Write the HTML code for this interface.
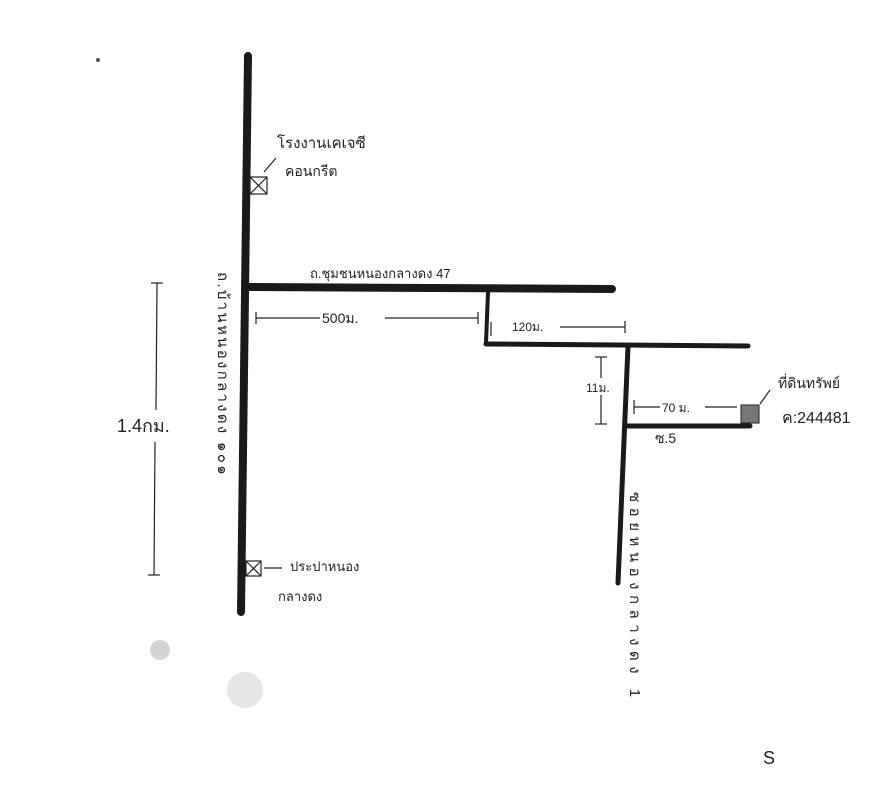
<!DOCTYPE html>
<html><head><meta charset="utf-8"><style>
html,body{margin:0;padding:0;background:#fff}
svg{display:block}
text{font-family:"Liberation Sans","Noto Sans CJK SC",sans-serif;fill:#222}
</style></head><body>
<svg width="881" height="800" viewBox="0 0 881 800" xmlns="http://www.w3.org/2000/svg">
<g stroke="#1a1a1a" stroke-linecap="round" fill="none">
<line x1="248" y1="56" x2="241" y2="612" stroke-width="8"/>
<line x1="246" y1="287" x2="612" y2="289" stroke-width="8"/>
<line x1="488" y1="292" x2="486" y2="343" stroke-width="4"/>
<line x1="486" y1="344" x2="748" y2="346" stroke-width="5"/>
<line x1="628" y1="346" x2="618" y2="583" stroke-width="5"/>
<line x1="626" y1="426" x2="750" y2="426" stroke-width="5"/>
</g>
<g stroke="#222" stroke-width="1.2" fill="none">
<line x1="157" y1="283" x2="156" y2="410"/><line x1="155" y1="442" x2="154" y2="575"/><line x1="151" y1="283" x2="163" y2="283"/><line x1="148" y1="575" x2="160" y2="575"/>
<line x1="256" y1="318" x2="320" y2="318"/><line x1="385" y1="318" x2="478" y2="318"/><line x1="256" y1="312" x2="256" y2="324"/><line x1="478" y1="312" x2="478" y2="324"/>
<line x1="491" y1="322" x2="491" y2="336"/><line x1="560" y1="327" x2="625" y2="327"/><line x1="625" y1="321" x2="625" y2="333"/>
<line x1="601" y1="357" x2="601" y2="378"/><line x1="601" y1="395" x2="601" y2="424"/><line x1="595" y1="357" x2="607" y2="357"/><line x1="595" y1="424" x2="607" y2="424"/>
<line x1="634" y1="400" x2="634" y2="414"/><line x1="634" y1="407" x2="660" y2="407"/><line x1="705" y1="407" x2="737" y2="407"/>
<rect x="250" y="177" width="17" height="17"/><line x1="250" y1="177" x2="267" y2="194"/><line x1="267" y1="177" x2="250" y2="194"/>
<rect x="246" y="561" width="15" height="15"/><line x1="246" y1="561" x2="261" y2="576"/><line x1="261" y1="561" x2="246" y2="576"/>
<line x1="276" y1="158" x2="264" y2="172"/><line x1="264" y1="568" x2="282" y2="568"/><line x1="770" y1="390" x2="760" y2="404"/>
</g>
<rect x="741" y="405" width="18" height="18" fill="#777" stroke="#222"/>
<text x="277" y="148" font-size="15">โรงงานเคเจซี</text>
<text x="285" y="176" font-size="14">คอนกรีต</text>
<text x="310" y="278" font-size="13">ถ.ชุมชนหนองกลางดง 47</text>
<text x="322" y="323" font-size="14">500ม.</text>
<text x="512" y="331" font-size="12">120ม.</text>
<text x="586" y="392" font-size="12">11ม.</text>
<text x="662" y="412" font-size="12">70 ม.</text>
<text x="655" y="443" font-size="14">ซ.5</text>
<text x="778" y="388" font-size="14">ที่ดินทรัพย์</text>
<text x="782" y="423" font-size="16">ค:244481</text>
<text x="117" y="432" font-size="18">1.4กม.</text>
<text x="290" y="571" font-size="13">ประปาหนอง</text>
<text x="278" y="601" font-size="13">กลางดง</text>
<text x="763" y="764" font-size="18">S</text>
<text font-size="15" letter-spacing="2.3" transform="translate(218,272) rotate(90)">ถ.บ้านหนองกลางดง ๑๐๑</text>
<text font-size="15" letter-spacing="5.5" transform="translate(630,492) rotate(90)">ซอยหนองกลางดง 1</text>
<g fill="#555"><circle cx="160" cy="650" r="10" opacity=".25"/><circle cx="245" cy="690" r="18" opacity=".15"/><circle cx="98" cy="60" r="2"/></g>
</svg>
</body></html>
